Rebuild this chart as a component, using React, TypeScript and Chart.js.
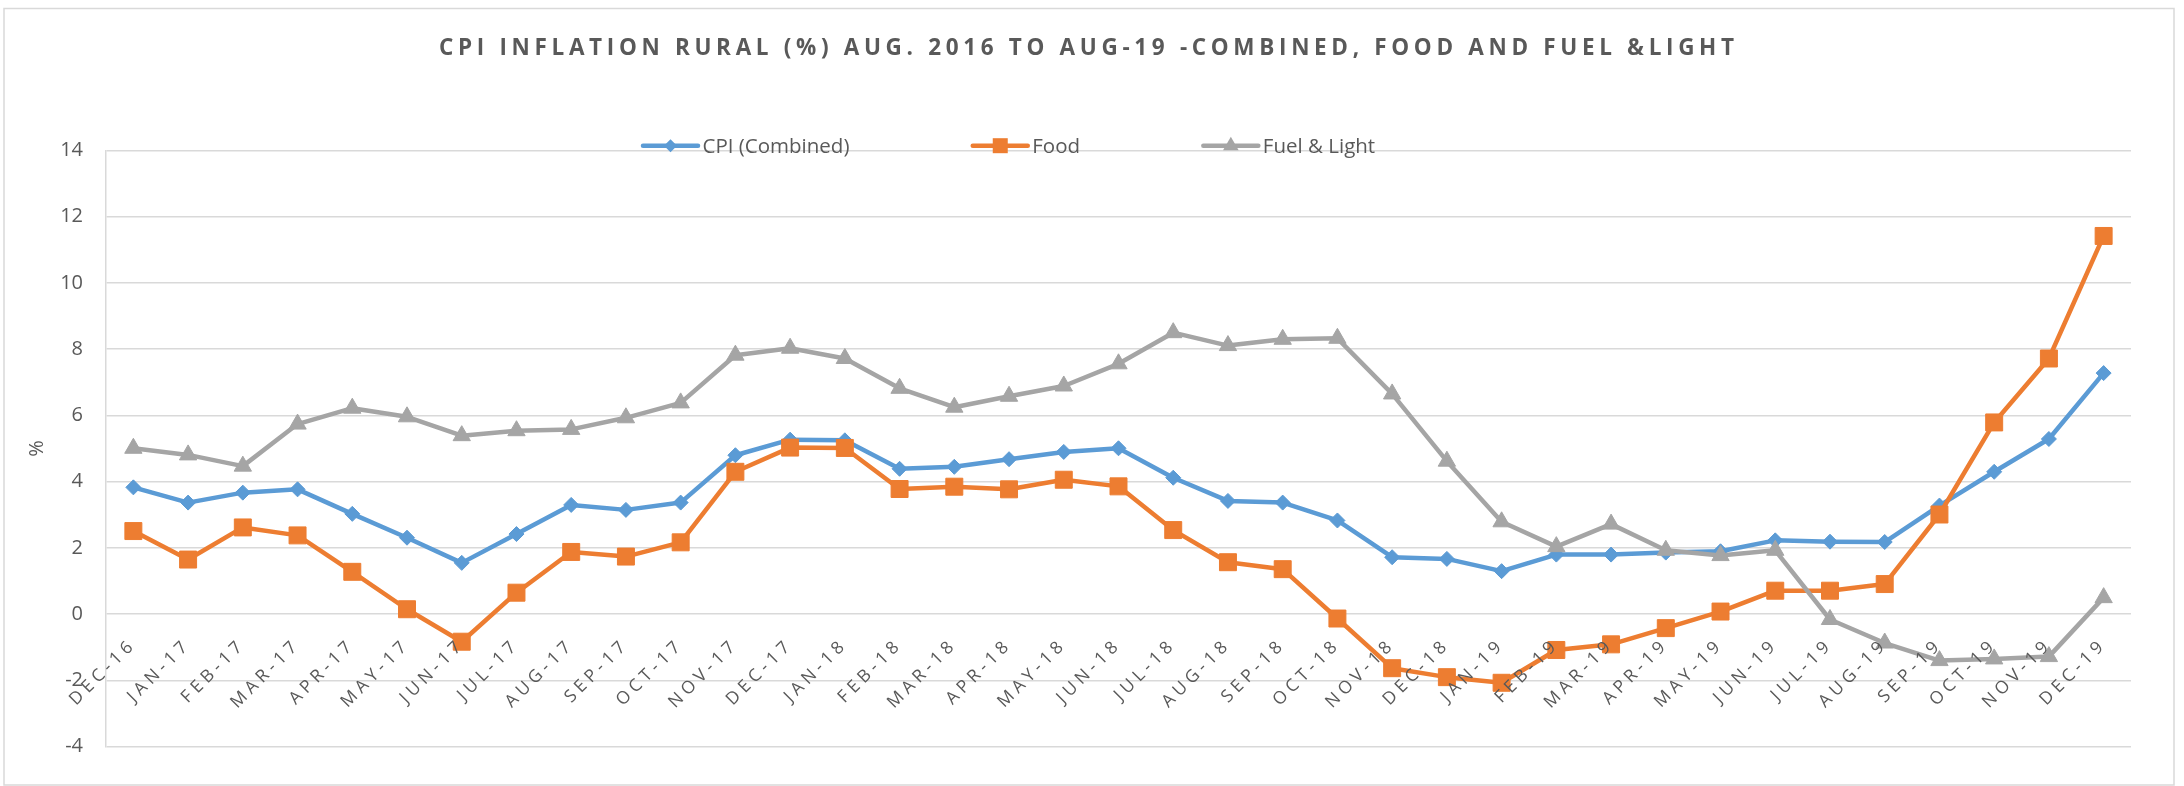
import React, { useEffect, useRef } from 'react';
import { Chart, registerables, CategoryScale } from 'chart.js';

Chart.register(...registerables);

// ---------- data ----------
const CATEGORIES = [
  'DEC-16', 'JAN-17', 'FEB-17', 'MAR-17', 'APR-17', 'MAY-17', 'JUN-17', 'JUL-17', 'AUG-17', 'SEP-17', 'OCT-17', 'NOV-17',
  'DEC-17', 'JAN-18', 'FEB-18', 'MAR-18', 'APR-18', 'MAY-18', 'JUN-18', 'JUL-18', 'AUG-18', 'SEP-18', 'OCT-18', 'NOV-18',
  'DEC-18', 'JAN-19', 'FEB-19', 'MAR-19', 'APR-19', 'MAY-19', 'JUN-19', 'JUL-19', 'AUG-19', 'SEP-19', 'OCT-19', 'NOV-19',
  'DEC-19',
];

const CPI_COMBINED = [
  3.83, 3.37, 3.67, 3.77, 3.03, 2.31, 1.55, 2.42, 3.30, 3.15, 3.37, 4.80,
  5.27, 5.25, 4.39, 4.45, 4.68, 4.90, 5.01, 4.12, 3.42, 3.37, 2.83, 1.72,
  1.67, 1.30, 1.80, 1.80, 1.86, 1.90, 2.23, 2.19, 2.18, 3.28, 4.30, 5.29,
  7.28,
];

const FOOD = [
  2.51, 1.65, 2.62, 2.38, 1.28, 0.15, -0.83, 0.65, 1.88, 1.74, 2.17, 4.30,
  5.03, 5.02, 3.78, 3.85, 3.77, 4.06, 3.86, 2.54, 1.57, 1.36, -0.13, -1.63,
  -1.90, -2.07, -1.08, -0.91, -0.42, 0.08, 0.71, 0.71, 0.91, 3.01, 5.79, 7.72,
  11.42,
];

const FUEL_LIGHT = [
  5.01, 4.81, 4.47, 5.74, 6.22, 5.96, 5.39, 5.54, 5.58, 5.93, 6.38, 7.82,
  8.03, 7.72, 6.82, 6.25, 6.58, 6.89, 7.56, 8.50, 8.11, 8.30, 8.33, 6.65,
  4.62, 2.79, 2.04, 2.72, 1.93, 1.77, 1.93, -0.16, -0.87, -1.40, -1.35, -1.28,
  0.50,
];

const SERIES_NAMES = ['CPI (Combined)', 'Food', 'Fuel & Light'];
const Y_MIN = -4;
const Y_MAX = 14;
const Y_STEP = 2;
const TITLE = 'CPI INFLATION RURAL (%) AUG. 2016 TO AUG-19 -COMBINED, FOOD AND FUEL &LIGHT';
const Y_TITLE = '%';

// ---------- styles ----------
const FONT = "'Open Sans', 'Noto Sans', sans-serif";
const TEXT_COLOR = '#595959';
const GRID_COLOR = '#D9D9D9';
const COLORS = ['#5B9BD5', '#ED7D31', '#A5A5A5'];
const X_LABEL_SPACING = 4.5;

class SpacedCategoryScale extends CategoryScale {
  static id = 'spacedCategory';
  static defaults = {};
  drawLabels(chartArea: any) {
    const ctx = (this as any).ctx as CanvasRenderingContext2D;
    ctx.save();
    (ctx as any).letterSpacing = `${X_LABEL_SPACING}px`;
    super.drawLabels(chartArea);
    ctx.restore();
  }
}
Chart.register(SpacedCategoryScale as any);

const framePlugin = {
  id: 'frame',
  beforeDraw(chart: any) {
    const ctx = chart.ctx as CanvasRenderingContext2D;
    ctx.save();
    ctx.fillStyle = '#ffffff';
    ctx.fillRect(0, 0, chart.width, chart.height);
    ctx.strokeStyle = GRID_COLOR;
    ctx.lineWidth = 1.5;
    ctx.strokeRect(4, 8.5, 2170, 776.5);
    ctx.restore();
  },
};

const titlePlugin = {
  id: 'excelTitle',
  afterDraw(chart: any) {
    const ctx = chart.ctx as CanvasRenderingContext2D;
    ctx.save();
    ctx.font = `bold 22.5px ${FONT}`;
    ctx.fillStyle = TEXT_COLOR;
    ctx.textAlign = 'left';
    ctx.textBaseline = 'alphabetic';
    (ctx as any).letterSpacing = '0px';
    const natural = ctx.measureText(TITLE).width;
    const targetWidth = 1295;
    const spacing = (targetWidth - natural) / (TITLE.length - 1);
    (ctx as any).letterSpacing = `${spacing}px`;
    ctx.fillText(TITLE, 1086.5 - targetWidth / 2, 55);
    ctx.restore();
  },
};

function drawMarker(ctx: CanvasRenderingContext2D, style: string, x: number, y: number, color: string) {
  ctx.fillStyle = color;
  ctx.beginPath();
  if (style === 'rectRot') {
    const r = 6.5;
    ctx.moveTo(x - r, y);
    ctx.lineTo(x, y - r);
    ctx.lineTo(x + r, y);
    ctx.lineTo(x, y + r);
  } else if (style === 'rect') {
    const h = 7.5;
    ctx.rect(x - h, y - h, 2 * h, 2 * h);
  } else {
    const r = 9;
    ctx.moveTo(x, y - r);
    ctx.lineTo(x + r * 0.866, y + r / 2);
    ctx.lineTo(x - r * 0.866, y + r / 2);
  }
  ctx.closePath();
  ctx.fill();
}

const legendPlugin = {
  id: 'excelLegend',
  afterDraw(chart: any) {
    const ctx = chart.ctx as CanvasRenderingContext2D;
    ctx.save();
    ctx.font = `20.5px ${FONT}`;
    ctx.textAlign = 'left';
    ctx.textBaseline = 'alphabetic';
    const y = 145.7;
    let x = 643;
    chart.data.datasets.forEach((ds: any) => {
      ctx.strokeStyle = ds.borderColor;
      ctx.lineWidth = 4.5;
      ctx.lineCap = 'round';
      ctx.beginPath();
      ctx.moveTo(x, y);
      ctx.lineTo(x + 55, y);
      ctx.stroke();
      drawMarker(ctx, ds.pointStyle, x + 27.5, y, ds.borderColor);
      ctx.fillStyle = TEXT_COLOR;
      const tx = x + 59.5;
      ctx.fillText(ds.label, tx, y + 7.3);
      x = tx + ctx.measureText(ds.label).width + 123.3;
    });
    ctx.restore();
  },
};

export default function App() {
  const canvasRef = useRef<HTMLCanvasElement | null>(null);

  useEffect(() => {
    if (!canvasRef.current) return;
    const makeDs = (label: string, data: number[], color: string, pointStyle: string, radius: number, order: number) => ({
      label,
      data,
      borderColor: color,
      backgroundColor: color,
      pointBackgroundColor: color,
      pointBorderColor: color,
      pointBorderWidth: 1,
      pointStyle,
      pointRadius: radius,
      pointHoverRadius: radius,
      borderWidth: 4.5,
      borderJoinStyle: 'round',
      borderCapStyle: 'round',
      tension: 0,
      fill: false,
      order,
    });

    const chart = new Chart(canvasRef.current, {
      type: 'line',
      data: {
        labels: CATEGORIES,
        datasets: [
          makeDs(SERIES_NAMES[0], CPI_COMBINED, COLORS[0], 'rectRot', 7.5, 3),
          makeDs(SERIES_NAMES[1], FOOD, COLORS[1], 'rect', 12, 2),
          makeDs(SERIES_NAMES[2], FUEL_LIGHT, COLORS[2], 'triangle', 10, 1),
        ] as any,
      },
      options: {
        responsive: false,
        animation: false,
        layout: { padding: { top: 150.5, right: 53, bottom: 39.3, left: 0 } },
        plugins: {
          legend: { display: false },
          title: { display: false },
          tooltip: { enabled: false },
        },
        scales: {
          x: {
            type: 'spacedCategory' as any,
            position: { y: 0 } as any,
            offset: true,
            grid: { display: false, drawTicks: false },
            border: { display: false },
            ticks: {
              autoSkip: false,
              maxRotation: 45,
              minRotation: 45,
              color: TEXT_COLOR,
              font: { family: FONT, size: 17.5 },
              padding: 20,
              z: 1,
            },
          },
          y: {
            min: Y_MIN,
            max: Y_MAX,
            ticks: {
              stepSize: Y_STEP,
              color: TEXT_COLOR,
              font: { family: FONT, size: 20 },
              padding: 23,
            },
            grid: { color: GRID_COLOR, lineWidth: 1.5, drawTicks: false },
            border: { display: true, color: GRID_COLOR, width: 1.5 },
            title: {
              display: true,
              text: Y_TITLE,
              color: TEXT_COLOR,
              font: { family: FONT, size: 20 },
              padding: { top: 25, bottom: 0 },
            },
            afterFit: (scale: any) => {
              scale.width = 106;
            },
          },
        } as any,
      },
      plugins: [framePlugin, titlePlugin, legendPlugin],
    });
    return () => chart.destroy();
  }, []);

  return (
    <div style={{ position: 'absolute', left: 0, top: 0, width: 2184, height: 786 }}>
      <canvas ref={canvasRef} width={2184} height={786} style={{ display: 'block' }} />
    </div>
  );
}
